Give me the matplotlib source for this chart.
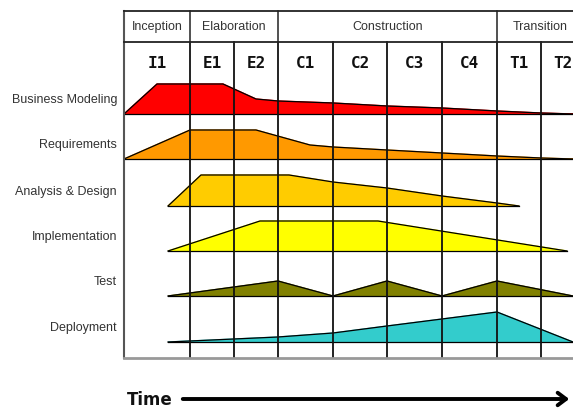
import matplotlib
matplotlib.use("Agg")
import matplotlib.pyplot as plt

# iteration columns (left edge of the grid is 124 px, T2 runs past the figure)
iterations = ["I1", "E1", "E2", "C1", "C2", "C3", "C4", "T1", "T2"]
iter_edges = [124, 190, 234, 278, 333, 387, 442, 497, 541, 585]
phases = ["Inception", "Elaboration", "Construction", "Transition"]
phase_edges = [124, 190, 278, 497, 585]

# workflows: baseline row, profile x positions and effort heights
workflows = ["Business Modeling", "Requirements", "Analysis & Design",
             "Implementation", "Test", "Deployment"]
baselines = [115, 160, 207, 252, 297, 343]
colors = ["#FF0000", "#FF9900", "#FFCC00", "#FFFF00", "#808000", "#33CCCC"]

bm_x = [124, 157, 223, 256, 278, 333, 387, 442, 497, 541, 573]
bm_h = [0, 30, 30, 15, 13, 11, 8, 6, 3, 1, 0]
req_x = [124, 190, 256, 310, 333, 387, 442, 497, 541, 573]
req_h = [0, 29, 29, 14, 12, 9, 6, 3, 1, 0]
ad_x = [168, 201, 289, 333, 387, 442, 497, 519]
ad_h = [0, 31, 31, 24, 18, 10, 3, 0]
impl_x = [168, 260, 378, 567]
impl_h = [0, 30, 30, 0]
test_x = [168, 278, 333, 387, 442, 497, 573]
test_h = [0, 15, 0, 15, 0, 15, 0]
dep_x = [168, 278, 333, 387, 442, 497, 573]
dep_h = [0, 5, 9, 16, 23, 30, 0]
profiles = [(bm_x, bm_h), (req_x, req_h), (ad_x, ad_h),
            (impl_x, impl_h), (test_x, test_h), (dep_x, dep_h)]

sans = ["Liberation Sans", "DejaVu Sans"]

fig = plt.figure(figsize=(5.73, 4.10), dpi=100)
ax = fig.add_axes([0, 0, 1, 1])
ax.set_xlim(0, 573)
ax.set_ylim(410, 0)
ax.axis("off")

top, hdr, bottom = 12, 43, 359

# grid
for x in iter_edges[1:-1]:
    ax.plot([x, x], [hdr, bottom], color="#111111", lw=1.3, zorder=3)
for x in phase_edges[1:-1]:
    ax.plot([x, x], [top, hdr], color="#222222", lw=1.1, zorder=3)
ax.plot([124, 124], [top, bottom], color="#555555", lw=1.5, zorder=3)
ax.plot([124, 573], [top, top], color="#222222", lw=1.3, zorder=3)
ax.plot([124, 573], [hdr, hdr], color="#222222", lw=1.3, zorder=3)
ax.plot([124, 573], [bottom, bottom], color="#999999", lw=2.0, zorder=3)

# phase and iteration headers
for i, p in enumerate(phases):
    cx = (phase_edges[i] + phase_edges[i + 1]) / 2
    if p == "Transition":
        cx = 540
    ax.text(cx, 27, p, ha="center", va="center", fontsize=9,
            family=sans, color="#333333")
for i, it in enumerate(iterations):
    cx = (iter_edges[i] + iter_edges[i + 1]) / 2
    if it == "T2":
        cx = 563
    ax.text(cx, 64, it, ha="center", va="center", fontsize=11.5,
            fontweight="bold", family="DejaVu Sans Mono", color="#111111")

# workflow profiles
for name, base, col, (xs, hs) in zip(workflows, baselines, colors, profiles):
    ys = [base - h for h in hs]
    ax.fill(xs + [xs[-1], xs[0]], ys + [base, base], color=col, zorder=2)
    ax.plot(xs, ys, color="black", lw=0.9, zorder=2.5)
    ax.plot([xs[0], xs[-1]], [base, base], color="black", lw=0.9, zorder=2.5)
    ax.text(117, base - 15, name, ha="right", va="center", fontsize=9,
            family=sans, color="#333333")

# time arrow
ax.text(127, 400, "Time", ha="left", va="center", fontsize=12,
        fontweight="bold", color="#111111")
ax.annotate("", xy=(572, 400), xytext=(180, 400),
            arrowprops=dict(arrowstyle="->,head_length=0.6,head_width=0.45",
                            color="black", lw=2.8))

fig.savefig("out.png", dpi=100)
